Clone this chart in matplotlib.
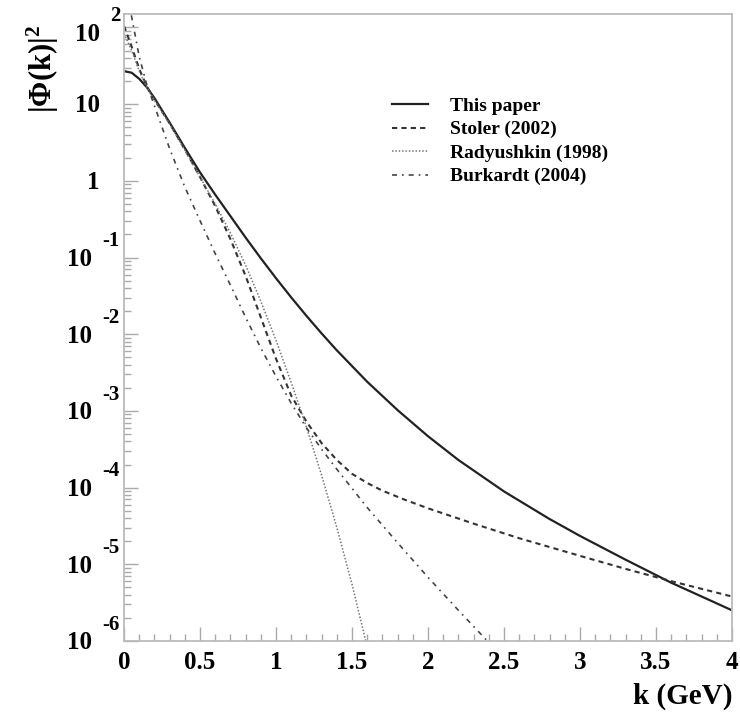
import numpy as np
import matplotlib
matplotlib.use("Agg")
import matplotlib.pyplot as plt
from matplotlib.ticker import FixedLocator, LogLocator, NullFormatter

plt.rcParams['font.family'] = ['Liberation Serif', 'DejaVu Serif']
plt.rcParams['font.weight'] = 'bold'
plt.rcParams['mathtext.fontset'] = 'custom'
plt.rcParams['mathtext.rm'] = 'Liberation Serif:bold'
plt.rcParams['mathtext.bf'] = 'Liberation Serif:bold'
plt.rcParams['mathtext.it'] = 'Liberation Serif:bold'

# values, as log10(|Phi(k)|^2)
paper_k = [0, 0.05, 0.1, 0.15, 0.2, 0.3, 0.4, 0.5, 0.6, 0.7, 0.8, 0.9, 1.0, 1.1, 1.2,
           1.3, 1.4, 1.6, 1.8, 2.0, 2.2, 2.5, 2.8, 3.0, 3.3, 3.6, 4.0]
paper_log = [1.43, 1.41, 1.33, 1.22, 1.08, 0.76, 0.43, 0.11, -0.18, -0.46, -0.74, -1.01,
             -1.27, -1.52, -1.76, -1.99, -2.21, -2.62, -2.99, -3.33, -3.64, -4.05, -4.41,
             -4.63, -4.94, -5.24, -5.60]

stoler_k = [0, 0.05, 0.1, 0.15, 0.2, 0.3, 0.4, 0.5, 0.6, 0.7, 0.8, 0.9, 1.0, 1.1, 1.2,
            1.3, 1.4, 1.5, 1.6, 1.7, 1.85, 2.0, 2.3, 2.6, 3.0, 3.3, 3.6, 4.0]
stoler_log = [2.02, 1.75, 1.46, 1.23, 1.06, 0.75, 0.41, 0.05, -0.33, -0.76, -1.24, -1.78,
              -2.32, -2.80, -3.14, -3.42, -3.64, -3.82, -3.94, -4.04, -4.16, -4.27, -4.47,
              -4.66, -4.89, -5.06, -5.22, -5.42]

rad_k = [0, 0.05, 0.1, 0.15, 0.2, 0.3, 0.4, 0.5, 0.6, 0.7, 0.8, 0.9, 1.0, 1.1, 1.2,
         1.3, 1.4, 1.5, 1.6]
rad_log = [1.92, 1.70, 1.43, 1.22, 1.05, 0.74, 0.40, 0.05, -0.30, -0.68, -1.10, -1.57,
           -2.08, -2.63, -3.21, -3.84, -4.52, -5.26, -6.08]

burk_k = [0, 0.05, 0.1, 0.15, 0.2, 0.3, 0.4, 0.5, 0.6, 0.7, 0.8, 0.9, 1.0, 1.1, 1.2,
          1.3, 1.4, 1.6, 1.8, 2.0, 2.2, 2.4, 2.45]
burk_log = [2.65, 2.14, 1.62, 1.25, 0.98, 0.42, -0.08, -0.52, -0.95, -1.36, -1.78, -2.18,
            -2.55, -2.90, -3.22, -3.50, -3.76, -4.26, -4.72, -5.17, -5.60, -6.02, -6.12]

legend_labels = ["This paper", "Stoler (2002)", "Radyushkin (1998)", "Burkardt (2004)"]

y_ticks = [1e-6, 1e-5, 1e-4, 1e-3, 1e-2, 1e-1, 1, 10, 100]
y_base_labels = ['10', '10', '10', '10', '10', '10', '1', '10', '10']
y_exp_labels = ['-6', '-5', '-4', '-3', '-2', '-1', '', '', '2']
x_ticks = [0, 0.5, 1, 1.5, 2, 2.5, 3, 3.5, 4]
x_tick_labels = ['0', '0.5', '1', '1.5', '2', '2.5', '3', '3.5', '4']

fig = plt.figure(figsize=(7.4, 7.15), dpi=100)
ax = fig.add_axes([0.1676, 0.1035, 0.8216, 0.877])

ax.plot(paper_k, 10 ** np.array(paper_log), color='#222222', lw=1.6, ls='-',
        label=legend_labels[0])
ax.plot(stoler_k, 10 ** np.array(stoler_log), color='#333333', lw=1.5, ls=(0, (2.5, 2)),
        label=legend_labels[1])
ax.plot(rad_k, 10 ** np.array(rad_log), color='#777777', lw=1.1, ls=(0, (1, 1.2)),
        label=legend_labels[2])
ax.plot(burk_k, 10 ** np.array(burk_log), color='#444444', lw=1.2, ls=(0, (3, 3, 1, 3)),
        label=legend_labels[3])

ax.set_yscale('log')
ax.set_xlim(0, 4)
ax.set_ylim(1e-6, 150)

ax.set_xticks(x_ticks)
ax.set_xticklabels(x_tick_labels, fontsize=18, fontweight='bold')
ax.xaxis.set_minor_locator(FixedLocator(np.arange(0, 4.01, 0.1)))
ax.set_yticks(y_ticks)
ax.yaxis.set_minor_locator(LogLocator(base=10, subs=np.arange(2, 10)))
ax.yaxis.set_minor_formatter(NullFormatter())
ax.tick_params(axis='y', labelleft=False)

# ROOT-style "10 ^exp" labels, base and exponent drawn separately
ytrans = ax.get_yaxis_transform()
for val, base, expo in zip(y_ticks, y_base_labels, y_exp_labels):
    neg = expo.startswith('-')
    shift = -3.5 if val == y_ticks[-1] else 0   # top label sits a little lower
    ax.annotate(base, xy=(0, val), xycoords=ytrans,
                xytext=(-23 if neg else -17.3, -6 + shift), textcoords='offset points',
                ha='right', va='baseline', fontsize=18, fontweight='bold',
                annotation_clip=False)
    if expo:
        ax.annotate(expo, xy=(0, val), xycoords=ytrans,
                    xytext=(-15.5 if neg else -10, 8 + shift), textcoords='offset points',
                    ha='left', va='baseline', fontsize=15, fontweight='bold',
                    annotation_clip=False)

ax.tick_params(which='both', direction='in', top=False, right=False, color='#aaaaaa')
ax.tick_params(which='major', length=10, width=1)
ax.tick_params(which='minor', length=5, width=1)
ax.tick_params(axis='x', pad=7)
for s in ax.spines.values():
    s.set_color('#bbbbbb')
    s.set_linewidth(1.3)

ax.set_xlabel('k (GeV)', fontsize=21, fontweight='bold', loc='right')
ax.xaxis.set_label_coords(1.0, -0.066)
ax.set_ylabel(r'$\mathbf{|\Phi(k)|}^{\mathbf{2}}$', fontsize=22, loc='top')
ax.yaxis.set_label_coords(-0.104, 0.982)

ax.legend(loc='upper left', bbox_to_anchor=(0.44, 0.867), frameon=False,
          prop={'family': 'Liberation Serif', 'weight': 'bold', 'size': 14},
          handlelength=1.9, handletextpad=1.1, labelspacing=0.3, borderpad=0,
          borderaxespad=0)

fig.savefig('out.png', dpi=100, facecolor='white')
